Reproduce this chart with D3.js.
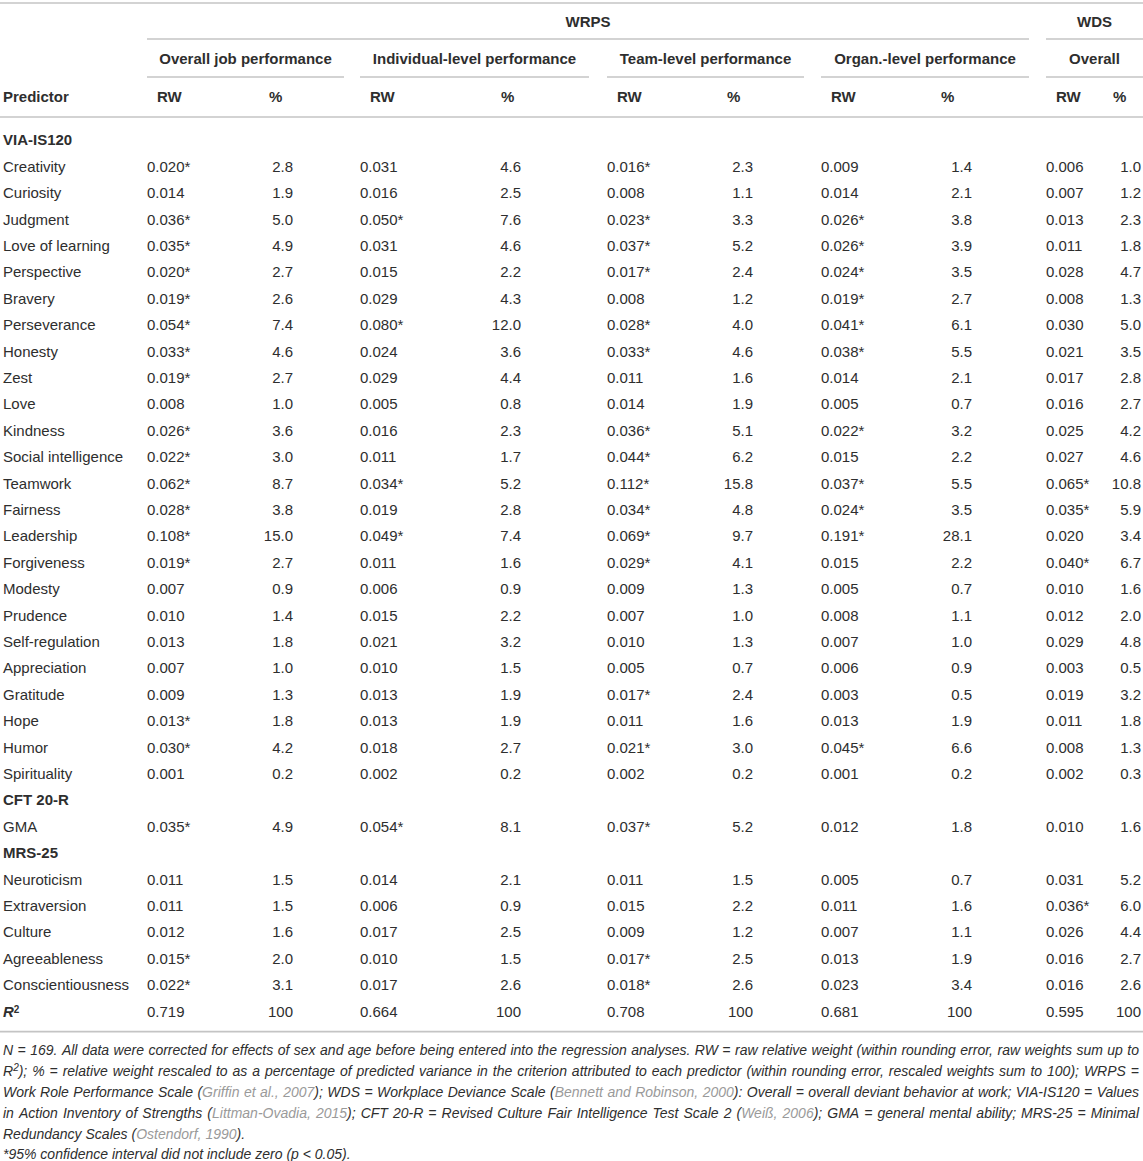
<!DOCTYPE html>
<html>
<head>
<meta charset="utf-8">
<script src="https://cdnjs.cloudflare.com/ajax/libs/d3/7.8.5/d3.min.js"></script>
<style>
  body { margin: 0; background: #fff; }
  text { font-family: "Liberation Sans", Arial, sans-serif; fill: #2e2e2e; }
  .rule { stroke: #c4c4c4; stroke-width: 1.6px; }
  .hd { font-weight: bold; font-size: 15px; }
  .cell { font-size: 15px; }
  .note { font-size: 14px; font-style: italic; }
</style>
</head>
<body>
<script>

// criterion groups (column headers)
var groups = ["Overall job performance", "Individual-level performance",
              "Team-level performance", "Organ.-level performance", "Overall"];

// predictor blocks
var sections = ["VIA-IS120", "CFT 20-R", "MRS-25"];
var viaItems = ["Creativity", "Curiosity", "Judgment", "Love of learning", "Perspective",
  "Bravery", "Perseverance", "Honesty", "Zest", "Love", "Kindness", "Social intelligence",
  "Teamwork", "Fairness", "Leadership", "Forgiveness", "Modesty", "Prudence",
  "Self-regulation", "Appreciation", "Gratitude", "Hope", "Humor", "Spirituality"];
var cftItems = ["GMA"];
var mrsItems = ["Neuroticism", "Extraversion", "Culture", "Agreeableness", "Conscientiousness"];

// raw relative weights (* = CI excludes zero), last entry is R²
var rwOverall = ["0.020*","0.014","0.036*","0.035*","0.020*","0.019*","0.054*","0.033*","0.019*","0.008",
  "0.026*","0.022*","0.062*","0.028*","0.108*","0.019*","0.007","0.010","0.013","0.007","0.009","0.013*",
  "0.030*","0.001","0.035*","0.011","0.011","0.012","0.015*","0.022*","0.719"];
var rwIndiv = ["0.031","0.016","0.050*","0.031","0.015","0.029","0.080*","0.024","0.029","0.005",
  "0.016","0.011","0.034*","0.019","0.049*","0.011","0.006","0.015","0.021","0.010","0.013","0.013",
  "0.018","0.002","0.054*","0.014","0.006","0.017","0.010","0.017","0.664"];
var rwTeam = ["0.016*","0.008","0.023*","0.037*","0.017*","0.008","0.028*","0.033*","0.011","0.014",
  "0.036*","0.044*","0.112*","0.034*","0.069*","0.029*","0.009","0.007","0.010","0.005","0.017*","0.011",
  "0.021*","0.002","0.037*","0.011","0.015","0.009","0.017*","0.018*","0.708"];
var rwOrgan = ["0.009","0.014","0.026*","0.026*","0.024*","0.019*","0.041*","0.038*","0.014","0.005",
  "0.022*","0.015","0.037*","0.024*","0.191*","0.015","0.005","0.008","0.007","0.006","0.003","0.013",
  "0.045*","0.001","0.012","0.005","0.011","0.007","0.013","0.023","0.681"];
var rwWds = ["0.006","0.007","0.013","0.011","0.028","0.008","0.030","0.021","0.017","0.016",
  "0.025","0.027","0.065*","0.035*","0.020","0.040*","0.010","0.012","0.029","0.003","0.019","0.011",
  "0.008","0.002","0.010","0.031","0.036*","0.026","0.016","0.016","0.595"];

// rescaled weights in %
var pctOverall = [2.8,1.9,5.0,4.9,2.7,2.6,7.4,4.6,2.7,1.0,3.6,3.0,8.7,3.8,15.0,2.7,0.9,1.4,1.8,1.0,1.3,1.8,4.2,0.2,4.9,1.5,1.5,1.6,2.0,3.1,100];
var pctIndiv = [4.6,2.5,7.6,4.6,2.2,4.3,12.0,3.6,4.4,0.8,2.3,1.7,5.2,2.8,7.4,1.6,0.9,2.2,3.2,1.5,1.9,1.9,2.7,0.2,8.1,2.1,0.9,2.5,1.5,2.6,100];
var pctTeam = [2.3,1.1,3.3,5.2,2.4,1.2,4.0,4.6,1.6,1.9,5.1,6.2,15.8,4.8,9.7,4.1,1.3,1.0,1.3,0.7,2.4,1.6,3.0,0.2,5.2,1.5,2.2,1.2,2.5,2.6,100];
var pctOrgan = [1.4,2.1,3.8,3.9,3.5,2.7,6.1,5.5,2.1,0.7,3.2,2.2,5.5,3.5,28.1,2.2,0.7,1.1,1.0,0.9,0.5,1.9,6.6,0.2,1.8,0.7,1.6,1.1,1.9,3.4,100];
var pctWds = [1.0,1.2,2.3,1.8,4.7,1.3,5.0,3.5,2.8,2.7,4.2,4.6,10.8,5.9,3.4,6.7,1.6,2.0,4.8,0.5,3.2,1.8,1.3,0.3,1.6,5.2,6.0,4.4,2.7,2.6,100];

var rwCols = [rwOverall, rwIndiv, rwTeam, rwOrgan, rwWds];
var pctCols = [pctOverall, pctIndiv, pctTeam, pctOrgan, pctWds];

// footnote lines: {grey citation}, ^superscript^
var noteLines = [
  "N = 169. All data were corrected for effects of sex and age before being entered into the regression analyses. RW = raw relative weight (within rounding error, raw weights sum up to",
  "R^2^); % = relative weight rescaled to as a percentage of predicted variance in the criterion attributed to each predictor (within rounding error, rescaled weights sum to 100); WRPS =",
  "Work Role Performance Scale ({Griffin et al., 2007}); WDS = Workplace Deviance Scale ({Bennett and Robinson, 2000}): Overall = overall deviant behavior at work; VIA-IS120 = Values",
  "in Action Inventory of Strengths ({Littman-Ovadia, 2015}); CFT 20-R = Revised Culture Fair Intelligence Test Scale 2 ({Weiß, 2006}); GMA = general mental ability; MRS-25 = Minimal",
  "Redundancy Scales ({Ostendorf, 1990}).",
  "*95% confidence interval did not include zero (p < 0.05)."
];

// ---- layout ----
var width = 1143, height = 1161;
var groupStart = [147, 360, 607, 821, 1046],
    groupEnd   = [344, 589, 804, 1029, 1143],
    pctRight   = [293, 521, 753, 972, 1141],
    pctHeadX   = [269, 501, 727, 941, 1113];

// build row list
var rows = [], k = 0;
[[sections[0], viaItems], [sections[1], cftItems], [sections[2], mrsItems]].forEach(function(s) {
  rows.push({key: s[0], label: s[0], type: "section"});
  s[1].forEach(function(name) { rows.push({key: name, label: name, type: "data", i: k++}); });
});
rows.push({key: "R2", label: "R", type: "r2", i: k});

var y = d3.scaleBand()
    .domain(rows.map(function(d) { return d.key; }))
    .range([127, 127 + rows.length * 26.4]);

var svg = d3.select("body").append("svg")
    .attr("width", width)
    .attr("height", height);

// horizontal rules
function rule(x1, x2, yy) {
  svg.append("line").attr("class", "rule")
    .attr("x1", x1).attr("x2", x2).attr("y1", yy).attr("y2", yy);
}
rule(0, width, 3);
rule(groupStart[0], groupEnd[3], 39);
rule(groupStart[4], groupEnd[4], 39);
groups.forEach(function(g, j) { rule(groupStart[j], groupEnd[j], 77); });
rule(0, width, 117);
rule(0, width, y.range()[1] + 7);

// header texts
var head = svg.append("g").attr("class", "hd");
head.append("text").attr("x", (groupStart[0] + groupEnd[3]) / 2).attr("y", 22)
    .attr("dy", "0.35em").attr("text-anchor", "middle").text("WRPS");
head.append("text").attr("x", (groupStart[4] + groupEnd[4]) / 2).attr("y", 22)
    .attr("dy", "0.35em").attr("text-anchor", "middle").text("WDS");
head.selectAll(".grp").data(groups).enter().append("text")
    .attr("x", function(d, j) { return (groupStart[j] + groupEnd[j]) / 2; })
    .attr("y", 59).attr("dy", "0.35em").attr("text-anchor", "middle")
    .text(function(d) { return d; });
head.append("text").attr("x", 3).attr("y", 97).attr("dy", "0.35em").text("Predictor");
head.selectAll(".rw").data(groups).enter().append("text")
    .attr("x", function(d, j) { return groupStart[j] + 10; })
    .attr("y", 97).attr("dy", "0.35em").text("RW");
head.selectAll(".pc").data(groups).enter().append("text")
    .attr("x", function(d, j) { return pctHeadX[j]; })
    .attr("y", 97).attr("dy", "0.35em").text("%");

// body rows
var row = svg.selectAll(".row").data(rows).enter().append("g")
    .attr("transform", function(d) { return "translate(0," + (y(d.key) + y.bandwidth() / 2) + ")"; });

row.append("text")
    .attr("x", 3).attr("dy", "0.35em")
    .attr("class", function(d) { return d.type === "data" ? "cell" : "hd"; })
    .style("font-style", function(d) { return d.type === "r2" ? "italic" : null; })
    .text(function(d) { return d.label; })
  .filter(function(d) { return d.type === "r2"; })
    .append("tspan").attr("dy", "-0.4em").style("font-size", "10px").style("font-style", "normal").text("2");

var fmt1 = d3.format(".1f");
var valueRows = row.filter(function(d) { return d.type !== "section"; });
groups.forEach(function(g, j) {
  valueRows.append("text").attr("class", "cell")
      .attr("x", groupStart[j]).attr("dy", "0.35em")
      .text(function(d) { return rwCols[j][d.i]; });
  valueRows.append("text").attr("class", "cell")
      .attr("x", pctRight[j]).attr("dy", "0.35em").attr("text-anchor", "end")
      .text(function(d) { var v = pctCols[j][d.i]; return v === 100 ? "100" : fmt1(v); });
});

// footnote, justified word by word
function parseLine(line) {
  var re = /\{([^}]*)\}|\^([^\^]*)\^|([^{\^]+)/g, m, pieces = [];
  while ((m = re.exec(line))) {
    if (m[1] != null) pieces.push({t: m[1], grey: true});
    else if (m[2] != null) pieces.push({t: m[2], sup: true});
    else pieces.push({t: m[3]});
  }
  var words = [[]];
  pieces.forEach(function(p) {
    p.t.split(/( )/).forEach(function(s) {
      if (s === " ") words.push([]);
      else if (s) words[words.length - 1].push({t: s, grey: p.grey, sup: p.sup});
    });
  });
  return words.filter(function(w) { return w.length; });
}

var noteLeft = 3, noteRight = 1139, spaceW = 3.9;
noteLines.forEach(function(line, li) {
  var g = svg.append("g").attr("class", "note")
      .attr("transform", "translate(0," + (1050 + li * 20.9) + ")");
  var words = parseLine(line);
  var nodes = words.map(function(w) {
    var t = g.append("text").attr("dy", "0.35em");
    var raised = false;
    w.forEach(function(p) {
      var ts = t.append("tspan").text(p.t);
      if (p.grey) ts.style("fill", "#9a9a9a");
      if (p.sup) { ts.attr("dy", -5).style("font-size", "10px"); raised = true; }
      else if (raised) { ts.attr("dy", 5); raised = false; }
    });
    return t;
  });
  var widths = nodes.map(function(t) { return t.node().getComputedTextLength(); });
  var total = d3.sum(widths);
  var justify = li < 4;
  var gap = justify ? (noteRight - noteLeft - total) / (words.length - 1) : spaceW;
  var x = noteLeft;
  nodes.forEach(function(t, i) { t.attr("x", x); x += widths[i] + gap; });
});

</script>
</body>
</html>
